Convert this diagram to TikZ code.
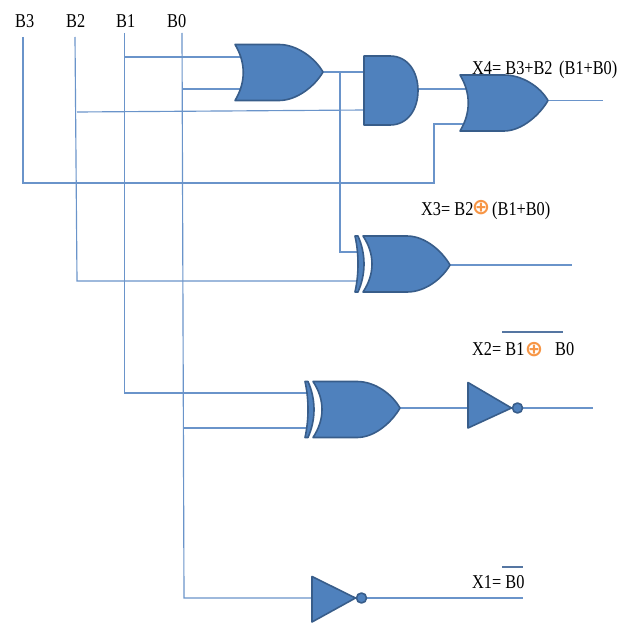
\documentclass[tikz,border=0pt]{standalone}
\usepackage{fontspec}
\usetikzlibrary{backgrounds}
\setmainfont{Liberation Serif}
\newfontfamily\symfont{DejaVu Sans}
\definecolor{gatefill}{HTML}{4F81BD}
\definecolor{gateedge}{HTML}{385D8A}
\definecolor{wirecol}{HTML}{6A94CA}
\definecolor{xorcol}{HTML}{F79646}
\newcommand{\lbltext}[1]{\scalebox{1}[1.2]{\fontsize{16.3}{18}\selectfont #1}}
\tikzset{
  x=1pt,y=-1pt,
  wire/.style={draw=wirecol,line width=1.15pt},
  overbar/.style={draw=wirecol!80!black,line width=1.1pt},
  gateshape/.style={fill=gatefill,draw=gateedge,line width=1.6pt,line join=round},
  lbl/.style={inner sep=0pt,anchor=base west,text=black},
  xorsym/.style={inner sep=0pt,anchor=center,text=xorcol,font=\symfont\bfseries\fontsize{22}{22}\selectfont},
  pics/orbody/.style={code={
    \path[gateshape] (0,0) -- (44,0) .. controls (62,0) and (80,#1-14) .. (88,#1)
      .. controls (80,#1+14) and (62,56) .. (44,56) -- (0,56)
      .. controls (11,38) and (11,18) .. (0,0) -- cycle;
    \coordinate (-out) at (88,#1);
  }},
  pics/xorgate/.style={code={
    \path[gateshape] (0,0) -- (44,0) .. controls (62,0) and (79,#1-14) .. (87,#1)
      .. controls (79,#1+14) and (62,56) .. (44,56)
      -- (0,56) .. controls (12,38) and (12,18) .. (0,0) -- cycle;
    \path[gateshape] (-8,0) .. controls (-4,18) and (-4,38) .. (-8,56) -- (-5,56)
      .. controls (3,38) and (3,18) .. (-5,0) -- cycle;
    \coordinate (-out) at (87,#1);
  }},
  andgate/.pic={
    \path[gateshape] (0,0) -- (26,0) .. controls (44,0) and (54,16) .. (54,34.5)
      .. controls (54,53) and (44,69) .. (26,69) -- (0,69) -- cycle;
    \coordinate (-out) at (54,33);
  },
  pics/notgate/.style={code={
    \path[gateshape] (0,0) -- (43.5,#1) -- (0,45.5) -- cycle;
    \path[gateshape] (49.5,#1) circle (5);
    \coordinate (-in) at (0,#1);
    \coordinate (-out) at (54,#1);
  }},
}
\begin{document}
\begin{tikzpicture}
\useasboundingbox (0,0) rectangle (629,623);
% free ends and junctions
\coordinate (b3top) at (23,37);
\coordinate (b2top) at (75,37);
\coordinate (b1top) at (124.5,33);
\coordinate (b0top) at (182,33);
\coordinate (or1a) at (242,57);
\coordinate (or1b) at (242,89);
\coordinate (anda) at (366,72);
\coordinate (andb) at (366,110);
\coordinate (or2a) at (468,89);
\coordinate (or2b) at (468,124);
\coordinate (x3b) at (360,281);
\coordinate (x3a) at (360,252);
\coordinate (x2a) at (308,393);
\coordinate (x2b) at (308,428);
\coordinate (b2k) at (77,281);
\coordinate (b2t) at (77,112);
\coordinate (b3k) at (23,183);
\coordinate (b3r) at (434,183);
\coordinate (b3u) at (434,124);
\coordinate (b0b) at (184,598);
\coordinate (b0m) at (183.7,428);
\coordinate (b0o) at (182.5,89);
\coordinate (tap) at (340,72);
\coordinate (tapd) at (340,252);
\coordinate (e4) at (603,100.5);
\coordinate (e3) at (572,265);
\coordinate (e2) at (593,408);
\coordinate (e1) at (523,598);
\coordinate (o2a) at (502,332);
\coordinate (o2b) at (563,332);
\coordinate (o1a) at (502,567);
\coordinate (o1b) at (523,567);
% gates
\pic (or1) at (235,44.5) {orbody=27.5};
\pic (and1) at (364,56) {andgate};
\pic (or2) at (460,75) {orbody=25.5};
\pic (xor1) at (363,236) {xorgate=29};
\pic (xor2) at (313,381.5) {xorgate=26.5};
\pic (not1) at (468,382.5) {notgate=25.5};
\pic (not2) at (312,576.5) {notgate=21.5};
% wires, under the gates
\begin{scope}[on background layer]
\draw[wire] (b3top) -- (b3k) -- (b3r) -- (b3u) -- (or2b);
\draw[wire] (b2top) -- (b2k) -- (x3b);
\draw[wire] (b2t) -- (andb);
\draw[wire] (b1top) |- (x2a);
\draw[wire] (b1top |- or1a) -- (or1a);
\draw[wire] (b0top) -- (b0b) -- (not2-in);
\draw[wire] (b0o) -- (or1b);
\draw[wire] (b0m) -- (x2b);
\draw[wire] (or1-out) -- (anda);
\draw[wire] (tap) -- (tapd) -- (x3a);
\draw[wire] (and1-out) -- (or2a);
\draw[wire] (or2-out) -- (e4);
\draw[wire] (xor1-out) -- (e3);
\draw[wire] (xor2-out) -- (not1-in);
\draw[wire] (not1-out) -- (e2);
\draw[wire] (not2-out) -- (e1);
\end{scope}
% overbars
\draw[overbar] (o2a) -- (o2b);
\draw[overbar] (o1a) -- (o1b);
% labels
\node[lbl] (lb3) at (15,28) {\lbltext{B3}};
\node[lbl] (lb2) at (66,28) {\lbltext{B2}};
\node[lbl] (lb1) at (116,28) {\lbltext{B1}};
\node[lbl] (lb0) at (167,28) {\lbltext{B0}};
\node[lbl] (x4t) at (472,75) {\lbltext{X4= B3+B2}};
\node[lbl] (x4b) at (559,75) {\lbltext{(B1+B0)}};
\node[lbl] (x3t) at (421,215) {\lbltext{X3= B2}};
\node[xorsym] (x3s) at (481,207.5) {⊕};
\node[lbl] (x3c) at (492,215) {\lbltext{(B1+B0)}};
\node[lbl] (x2t) at (472,355) {\lbltext{X2= B1}};
\node[xorsym] (x2s) at (534,350) {⊕};
\node[lbl] (x2c) at (555,355) {\lbltext{B0}};
\node[lbl] (x1t) at (472,588) {\lbltext{X1= B0}};
\end{tikzpicture}
\end{document}
